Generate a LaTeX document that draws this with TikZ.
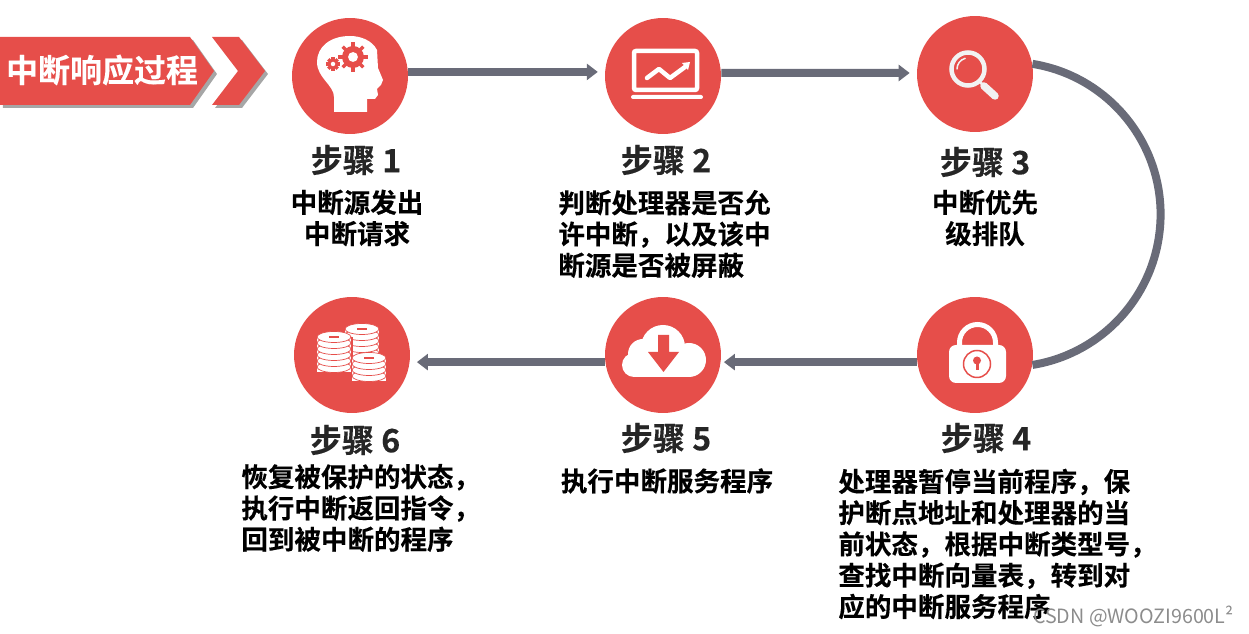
\documentclass[tikz,border=0pt]{standalone}
\usepackage{fontspec}
\setmainfont{Noto Sans CJK SC}[BoldFont={* Bold},BoldFeatures={FakeBold=0.25}]
\usetikzlibrary{arrows.meta,shadows}
\definecolor{dotred}{HTML}{E64E4A}
\definecolor{linkgray}{HTML}{696B78}
\definecolor{inkgray}{HTML}{262626}
\tikzset{
stepdot/.style={circle, fill=dotred, minimum size=2.32cm, inner sep=0pt},
link/.style={draw=linkgray, line width=0.16cm},
linktip/.style={link, -{Triangle[length=0.22cm, width=0.32cm]}},
steptitle/.style={font=\fontsize{18.3}{20}\selectfont\bfseries, text=inkgray, inner sep=0pt},
stepbody/.style={font=\fontsize{15.1}{17.8}\selectfont\bfseries, text=black, inner sep=0pt, align=left},
stepmid/.style={stepbody, align=center},
banner/.style={fill=dotred, drop shadow={shadow xshift=0.06cm, shadow yshift=-0.06cm, opacity=0.7}},
iconline/.style={draw=white, line width=0.09cm},
}
\begin{document}
\begin{tikzpicture}
[x=0.02cm, y=-0.02cm]
\useasboundingbox (0,0) rectangle (1249,634);
\fill[banner] (0,37) -- (190,37) -- (214,71) -- (190,105) -- (0,105) -- cycle;
\fill[banner] (212,37) -- (239,37) -- (265,71) -- (239,105) -- (212,105) -- (238,71) -- cycle;
\node (title) [font=\fontsize{18.2}{20}\selectfont\bfseries, text=white, inner sep=0pt] at (102,70) {中断响应过程};

\node (s1) [stepdot] at (350,76) {};
\node (s2) [stepdot] at (663,76) {};
\node (s3) [stepdot] at (975,74) {};
\node (s4) [stepdot] at (975,355) {};
\node (s5) [stepdot] at (663,355) {};
\node (s6) [stepdot] at (352,355) {};

\draw[linktip, shorten >=0.14cm] (s1.4) -- (s2.176);
\draw[linktip, shorten >=0.14cm] (s2.3) -- (s3.179);
\draw[linktip, shorten >=0.06cm] (s4.187) -- (s5.-7);
\draw[linktip, shorten >=0.14cm] (s5.187) -- (s6.-7);
\draw[link] (s3.10) arc [start angle=-80.8, end angle=80.8, radius=152.5];

\node (t1) [steptitle] at (356,160) {步骤 1};
\node (t2) [steptitle] at (666,160) {步骤 2};
\node (t3) [steptitle] at (985,162) {步骤 3};
\node (t4) [steptitle] at (986,438) {步骤 4};
\node (t5) [steptitle] at (666,438) {步骤 5};
\node (t6) [steptitle] at (355,440) {步骤 6};

\node (b1) [stepmid] at (357,218) {中断源发出\\中断请求};
\node (b2) [stepbody, anchor=west] at (558,234) {判断处理器是否允\\许中断，以及该中\\断源是否被屏蔽};
\node (b3) [stepmid] at (985,218) {中断优先\\级排队};
\node (b4) [stepbody, anchor=west] at (838,544) {处理器暂停当前程序，保\\护断点地址和处理器的当\\前状态，根据中断类型号，\\查找中断向量表，转到对\\应的中断服务程序};
\node (b5) [stepmid] at (667,481) {执行中断服务程序};
\node (b6) [stepbody, anchor=west] at (241,508) {恢复被保护的状态，\\执行中断返回指令，\\回到被中断的程序};

\fill[white] (334,112) -- (367,112) -- (367,99) -- (375,99) -- (378,95) -- (377,89) -- (381,85) -- (383,80) -- (378,68) -- (377,50) .. controls (372,40) and (360,36) .. (350,36) .. controls (330,36) and (317,47) .. (317,62) .. controls (317,78) and (334,85) .. (334,97) -- cycle;
\foreach \gearx/\geary/\gearr in {353/57/11, 333/64/5}
{
\fill[dotred] (\gearx,\geary) circle (\gearr);
\foreach \toothang in {0,45,...,315}
\draw[dotred, line width=0.07cm] (\gearx,\geary) -- ++(\toothang:\gearr*1.32);
\fill[white] (\gearx,\geary) circle (\gearr*0.45);
}

\draw[iconline, rounded corners=0.04cm] (634,51) rectangle (697,90);
\fill[white, rounded corners=0.04cm] (631,95) rectangle (703,99);
\draw[iconline, line cap=round, line join=round] (647,78) -- (659,69) -- (670,78) -- (685,67);
\fill[white] (690,62) -- (682,63) -- (688,70) -- cycle;

\draw[draw=white!95!black, line width=0.09cm] (968,69) circle (16.5);
\draw[draw=white!95!black, line width=0.03cm, line cap=round] (968,69) ++(180:11) arc [start angle=180, end angle=255, radius=11];
\draw[draw=white!95!black, line width=0.05cm] (979,81) -- (985,87);
\draw[draw=white!95!black, line width=0.15cm, line cap=round] (984,86) -- (995,96);

\draw[iconline, line width=0.1cm] (959.5,348) -- (959.5,342.5) arc [start angle=180, end angle=360, radius=18] -- (995.5,348);
\fill[white, rounded corners=0.14cm] (949,345) rectangle (1006,383);
\draw[dotred, line width=0.03cm] (977,364) circle (13.5);
\fill[dotred] (977,360.5) circle (4);
\fill[dotred] (975.5,361) rectangle (978.5,370);

\fill[white] (663,347) circle (22);
\fill[white] (643,354) circle (15);
\fill[white] (634,365) circle (12);
\fill[white] (689,360) circle (17);
\fill[white] (634,353) rectangle (690,377);
\fill[dotred] (658,335) -- (669,335) -- (669,352) -- (679,352) -- (663.5,372) -- (648,352) -- (658,352) -- cycle;

\foreach \coinx/\cointop/\coinbot in {362/329/353, 334/337/372, 369/358/381}
{
\fill[dotred] (\coinx-18.5,\cointop) rectangle (\coinx+18.5,\coinbot+6);
\fill[white] (\coinx-17,\cointop) rectangle (\coinx+17,\coinbot);
\foreach \coiny in {\coinbot,...,\cointop}
{
\pgfmathparse{int(mod(\coiny-\cointop,6))}
\ifnum\pgfmathresult=0
\filldraw[fill=white, draw=dotred, line width=0.014cm] (\coinx,\coiny) ellipse (17 and 5.5);
\fi
}
\draw[dotred, line width=0.025cm] (\coinx-5,\cointop) -- (\coinx+5,\cointop);
}

\node (mark) [font=\fontsize{11.2}{14}\selectfont, text=black!45, inner sep=0pt, anchor=east] at (1234,616) {CSDN @WOOZI9600L²};
\end{tikzpicture}
\end{document}
